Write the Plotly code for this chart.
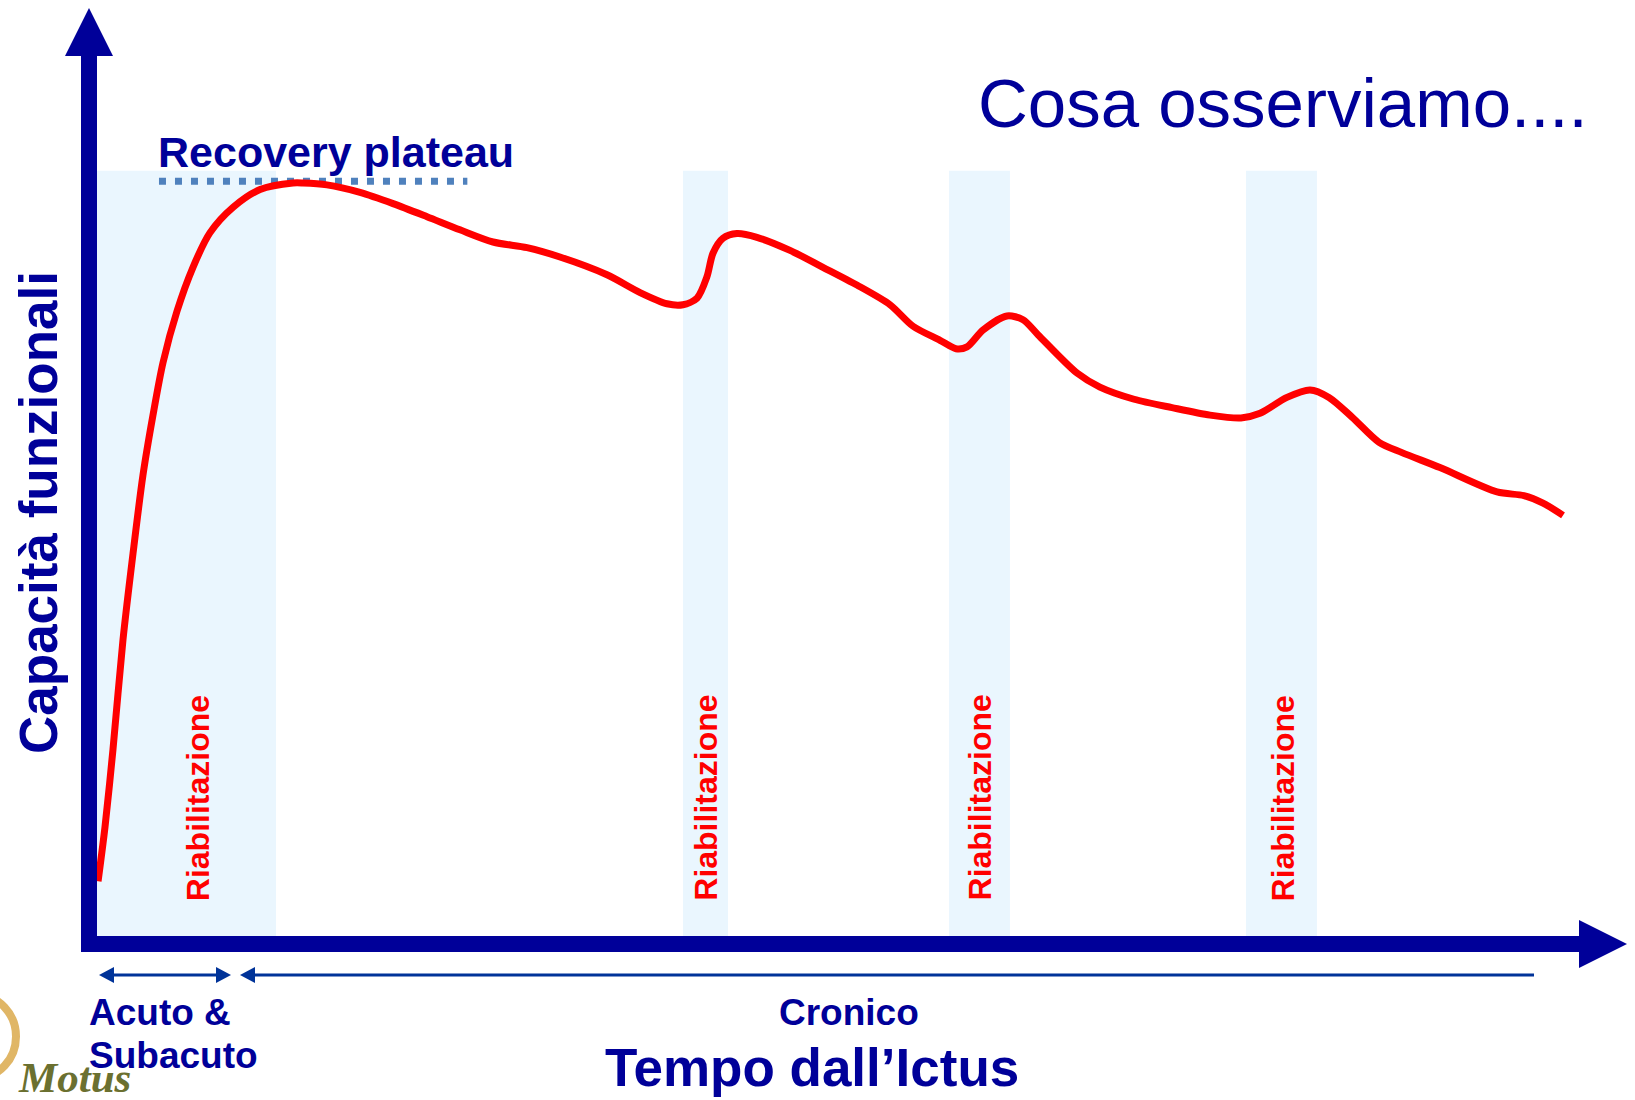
import plotly.graph_objects as go

# ---------------- data (time since stroke vs functional capacity, arbitrary units) ----------------
time = [0.59, 1.04, 1.56, 2.21, 2.86, 3.51, 4.16, 4.81, 5.72, 6.76, 7.87, 9.36, 11.12, 13.26, 13.91,
        15.47, 17.62, 19.77, 21.98, 24.12, 26.27, 28.48, 30.62, 33.68, 35.83, 37.58, 38.62, 39.53,
        40.18, 40.57, 41.22, 42.13, 43.43, 45.58, 47.72, 49.93, 52.08, 53.58, 55.33, 56.37, 57.09,
        58.13, 59.69, 60.73, 61.70, 64.24, 65.73, 67.95, 70.42, 72.89, 74.90, 76.14, 77.89, 79.39,
        80.62, 82.12, 83.88, 85.37, 87.84, 91.55, 93.30, 94.54, 95.84]
capacity = [6.7, 12.5, 20.8, 32.5, 41.7, 50.1, 56.5, 62.1, 67.6, 72.3, 76.0, 78.7, 80.6, 81.3, 81.3,
            81.1, 80.3, 79.1, 77.7, 76.3, 75.0, 74.4, 73.4, 71.5, 69.6, 68.4, 68.3, 69.0,
            71.3, 73.8, 75.4, 75.9, 75.5, 74.1, 72.3, 70.4, 68.3, 66.0, 64.5, 63.6, 63.8,
            65.6, 67.1, 66.7, 65.1, 61.0, 59.5, 58.2, 57.3, 56.5, 56.2, 56.7, 58.4, 59.2,
            58.4, 56.3, 53.6, 52.5, 50.9, 48.3, 47.9, 47.1, 45.8]

rehab_start = [0.52, 38.62, 55.92, 75.23]
rehab_end = [12.16, 41.55, 59.88, 79.84]
rehab_top = 82.6
rehab_label_time = [7.1, 40.1, 57.9, 77.6]
rehab_label_level = 15.6
rehab_label = "Riabilitazione"

plateau_time = [4.55, 24.6]
plateau_level = 81.5

# ---------------- styling ----------------
NAVY = "#000099"
ARROW_BLUE = "#003399"
RED = "#FF0000"
BAND = "#EAF6FE"
FONT = "Liberation Sans"

# plot frame in pixels (origin of axes at x=89, y=944)
W, H = 1635, 1100
L, R, T, B = 89, 8, 8, 156
PW, PH = W - L - R, H - T - B


def px(x):
    return (x - L) / PW


def py(y):
    return (H - B - y) / PH


fig = go.Figure()

# rehabilitation bands
shapes = []
for s, e in zip(rehab_start, rehab_end):
    shapes.append(dict(type="rect", xref="x", yref="y", x0=s, x1=e, y0=0, y1=rehab_top,
                       fillcolor=BAND, line=dict(width=0), layer="below"))

# recovery plateau dotted line
fig.add_trace(go.Scatter(x=plateau_time, y=[plateau_level, plateau_level], mode="lines",
                         line=dict(color="#4F81BD", width=7, dash="7px,9px"),
                         hoverinfo="skip", showlegend=False))

# functional capacity curve
fig.add_trace(go.Scatter(x=time, y=capacity, mode="lines",
                         line=dict(color=RED, width=7, shape="spline", smoothing=0.8),
                         hoverinfo="skip", showlegend=False))

# axes with arrow heads
shapes.append(dict(type="line", xref="paper", yref="paper", x0=px(89), x1=px(89),
                   y0=py(952), y1=py(54), line=dict(color=NAVY, width=16), layer="above"))
shapes.append(dict(type="path", xref="paper", yref="paper",
                   path=f"M {px(65)} {py(56)} L {px(89)} {py(8)} L {px(113)} {py(56)} Z",
                   fillcolor=NAVY, line=dict(width=0), layer="above"))
shapes.append(dict(type="line", xref="paper", yref="paper", x0=px(81), x1=px(1580),
                   y0=py(944), y1=py(944), line=dict(color=NAVY, width=16), layer="above"))
shapes.append(dict(type="path", xref="paper", yref="paper",
                   path=f"M {px(1579)} {py(920)} L {px(1627)} {py(944)} L {px(1579)} {py(968)} Z",
                   fillcolor=NAVY, line=dict(width=0), layer="above"))

# phase arrows below the axis
ay = 975
def head(tip, direction):
    base = tip + 15 * direction
    return f"M {px(tip)} {py(ay)} L {px(base)} {py(ay - 8)} L {px(base)} {py(ay + 8)} Z"

shapes.append(dict(type="line", xref="paper", yref="paper", x0=px(105), x1=px(225),
                   y0=py(ay), y1=py(ay), line=dict(color=ARROW_BLUE, width=3)))
shapes.append(dict(type="path", xref="paper", yref="paper", path=head(99, 1),
                   fillcolor=ARROW_BLUE, line=dict(width=0)))
shapes.append(dict(type="path", xref="paper", yref="paper", path=head(231, -1),
                   fillcolor=ARROW_BLUE, line=dict(width=0)))
shapes.append(dict(type="line", xref="paper", yref="paper", x0=px(246), x1=px(1534),
                   y0=py(ay), y1=py(ay), line=dict(color=ARROW_BLUE, width=3)))
shapes.append(dict(type="path", xref="paper", yref="paper", path=head(240, 1),
                   fillcolor=ARROW_BLUE, line=dict(width=0)))

# logo ring (partially off canvas)
shapes.append(dict(type="circle", xref="paper", yref="paper", x0=px(-62), x1=px(16),
                   y0=py(995), y1=py(1078), line=dict(color="#D9A441", width=8), opacity=0.8))

annotations = []
for xt in rehab_label_time:
    annotations.append(dict(x=xt, y=rehab_label_level, xref="x", yref="y", text=rehab_label,
                            textangle=-90, showarrow=False, xanchor="center", yanchor="middle",
                            font=dict(family=FONT, size=32, color=RED, weight="bold")))


def label(text, x, y, size, color=NAVY, weight="bold", xanchor="left", angle=0, family=FONT, style="normal"):
    annotations.append(dict(x=px(x), y=py(y), xref="paper", yref="paper", text=text,
                            showarrow=False, xanchor=xanchor, yanchor="middle", textangle=angle,
                            font=dict(family=family, size=size, color=color, weight=weight, style=style)))


label("Cosa osserviamo....", 976, 104, 69, weight="normal")
label("Recovery plateau", 156, 152, 43)
label("Capacità funzionali", 38, 513, 53, xanchor="center", angle=-90)
label("Acuto &", 87, 1012, 37)
label("Subacuto", 87, 1055, 37)
label("Cronico", 849, 1012, 37, xanchor="center")
label("Tempo dall’Ictus", 812, 1067, 53, xanchor="center")
label("Motus", 16, 1077, 43, color="#6B7030", family="Liberation Serif", style="italic")

fig.update_layout(
    width=W, height=H,
    margin=dict(l=L, r=R, t=T, b=B),
    paper_bgcolor="white", plot_bgcolor="white",
    xaxis=dict(range=[0, 100], visible=False, fixedrange=True),
    yaxis=dict(range=[0, 100], visible=False, fixedrange=True),
    shapes=shapes, annotations=annotations, showlegend=False,
)

fig.write_html("out.html", config={"displayModeBar": False},
               post_script="document.body.style.margin='0px';")
